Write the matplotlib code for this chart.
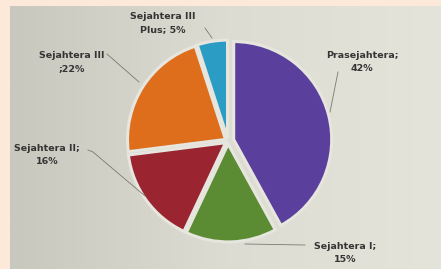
import numpy as np
import matplotlib.pyplot as plt
from matplotlib.colors import LinearSegmentedColormap

labels = ['Prasejahtera;\n42%', 'Sejahtera I;\n15%', 'Sejahtera II;\n16%',
          'Sejahtera III\n;22%', 'Sejahtera III\nPlus; 5%']
values = [42, 15, 16, 22, 5]
colors = ['#5a3f9c', '#5b8c34', '#9a2430', '#de6d1c', '#2b9cc4']
explode = [0.06, 0.03, 0.03, 0.03, 0.03]

fig = plt.figure(figsize=(4.41, 2.69), dpi=100)
fig.patch.set_facecolor('#fde9da')
ax = fig.add_axes([10 / 441, 0, 431 / 441, 263 / 269])

# photo-like grey gradient behind the chart
grad = np.tile(np.linspace(0, 1, 200), (50, 1))
cmap = LinearSegmentedColormap.from_list('bg', ['#c8c8be', '#dcdcd2', '#e4e4da'])
ax.imshow(grad, extent=[10, 441, 0, 263], cmap=cmap, aspect='auto', zorder=0)

cx, cy, r = 228, 128, 98
wedges, _ = ax.pie(values, colors=colors, startangle=90, counterclock=False,
                   center=(cx, cy), radius=r, explode=[e * r for e in explode],
                   wedgeprops=dict(edgecolor='#e6e6de', linewidth=2.2), frame=True)
ax.set_xlim(10, 441)
ax.set_ylim(0, 263)
ax.set_aspect('equal')
ax.axis('off')

# label positions and leader lines (data units)
text_pos = [(362, 207), (345, 16), (47, 114), (72, 207), (163, 246)]
leaders = [
    [(338, 197), (330, 157)],
    [(305, 24), (245, 25)],
    [(88, 119), (93, 117), (145, 73)],
    [(107, 215), (139, 187)],
    [(205, 241), (212, 231)],
]
for lab, tp, pts in zip(labels, text_pos, leaders):
    xs, ys = zip(*pts)
    ax.plot(xs, ys, color='#7a7a74', lw=0.6, zorder=3)
    ax.text(tp[0], tp[1], lab, ha='center', va='center', fontsize=6.8,
            fontweight='bold', color='#353535', linespacing=1.45, zorder=4)

fig.savefig('out.png', dpi=100, facecolor=fig.get_facecolor())
